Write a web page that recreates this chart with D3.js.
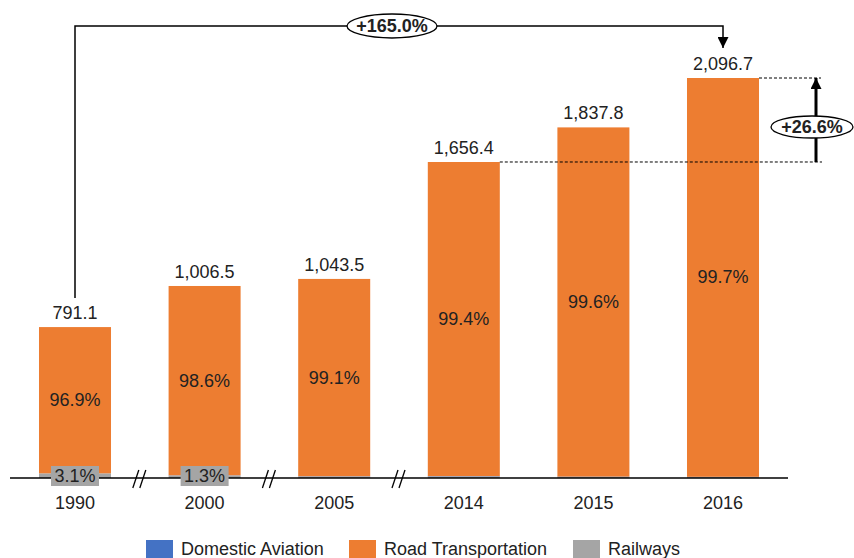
<!DOCTYPE html>
<html>
<head>
<meta charset="utf-8">
<script src="https://cdn.jsdelivr.net/npm/d3@7"></script>
<style>
  body { margin: 0; background: #fff; }
  svg text { font-family: "Liberation Sans", Arial, sans-serif; fill: #222; }
</style>
</head>
<body>
<svg id="chart" width="854" height="558"></svg>
<script>
// ---- data ----
var years = ['1990', '2000', '2005', '2014', '2015', '2016'];
var totals = [791.1, 1006.5, 1043.5, 1656.4, 1837.8, 2096.7];
var roadPct = [96.9, 98.6, 99.1, 99.4, 99.6, 99.7];
var railPct = [3.1, 1.3, 0.8, 0.5, 0.3, 0.2];
var aviationPct = [0.0, 0.1, 0.1, 0.1, 0.1, 0.1];
var seriesNames = ['Domestic Aviation', 'Road Transportation', 'Railways'];
var seriesColors = ['#4472c4', '#ed7d31', '#a5a5a5'];
var growthTotal = '+165.0%';
var growthRecent = '+26.6%';

var svg = d3.select('#chart');
var baseY = 478;

var x = d3.scaleBand()
  .domain(years)
  .range([10.2, 787.8])
  .paddingInner(0.4444)
  .paddingOuter(0.2222);

var y = d3.scaleLinear()
  .domain([0, d3.max(totals)])
  .range([baseY, 78]);

// rows for stack: rail at bottom, then aviation, then road
var rows = years.map(function(yr, i) {
  return {
    year: yr,
    total: totals[i],
    rail: totals[i] * railPct[i] / 100,
    aviation: totals[i] * aviationPct[i] / 100,
    road: totals[i] * roadPct[i] / 100,
    roadPct: roadPct[i],
    railPct: railPct[i]
  };
});

var stack = d3.stack().keys(['rail', 'aviation', 'road']);
var layers = stack(rows);
var keyColor = { rail: seriesColors[2], aviation: seriesColors[0], road: seriesColors[1] };

var bars = svg.append('g').attr('class', 'bars');
bars.selectAll('g')
  .data(layers)
  .enter().append('g')
  .attr('fill', function(d) { return keyColor[d.key]; })
  .selectAll('rect')
  .data(function(d) { return d; })
  .enter().append('rect')
  .attr('x', function(d) { return x(d.data.year); })
  .attr('width', x.bandwidth())
  .attr('y', function(d) { return y(d[1]); })
  .attr('height', function(d) { return y(d[0]) - y(d[1]); });

// ---- axis ----
var axis = svg.append('g').attr('transform', 'translate(0,' + baseY + ')');
axis.call(d3.axisBottom(x).tickSize(0).tickPadding(18))
axis.select('.domain').attr('stroke', '#000').attr('stroke-width', 1.5)
  .attr('d', 'M10,0H788');
axis.selectAll('.tick text')
  .style('font-size', '18px')
  .style('font-family', '"Liberation Sans", Arial, sans-serif')
  .attr('fill', '#222');

// axis break marks between first bars
var breaks = [0, 1, 2].map(function(i) {
  return (x(years[i]) + x.bandwidth() + x(years[i + 1])) / 2;
});
var brk = svg.append('g');
breaks.forEach(function(bx) {
  [-4, 3].forEach(function(dx) {
    brk.append('line')
      .attr('x1', bx + dx - 3).attr('y1', baseY + 10)
      .attr('x2', bx + dx + 3).attr('y2', baseY - 8)
      .attr('stroke', '#000').attr('stroke-width', 1.3);
  });
});

// ---- labels ----
var labels = svg.append('g');
labels.selectAll('text.total')
  .data(rows)
  .enter().append('text')
  .attr('class', 'total')
  .attr('x', function(d) { return x(d.year) + x.bandwidth() / 2; })
  .attr('y', function(d) { return y(d.total) - 8; })
  .attr('text-anchor', 'middle')
  .style('font-size', '18px')
  .text(function(d) { return d3.format(',.1f')(d.total); });

labels.selectAll('text.road')
  .data(rows)
  .enter().append('text')
  .attr('class', 'road')
  .attr('x', function(d) { return x(d.year) + x.bandwidth() / 2; })
  .attr('y', function(d) { return (y(d.total) + y(d.rail + d.aviation)) / 2; })
  .attr('text-anchor', 'middle')
  .attr('dominant-baseline', 'central')
  .style('font-size', '18px')
  .text(function(d) { return d.roadPct.toFixed(1) + '%'; });

var railRows = rows.filter(function(d) { return d.railPct >= 1; });
var railLab = labels.selectAll('g.rail')
  .data(railRows)
  .enter().append('g')
  .attr('transform', function(d) {
    return 'translate(' + (x(d.year) + x.bandwidth() / 2) + ',' + (baseY - 2) + ')';
  });
railLab.append('rect')
  .attr('x', -24).attr('y', -10).attr('width', 48).attr('height', 20)
  .attr('fill', seriesColors[2]);
railLab.append('text')
  .attr('text-anchor', 'middle')
  .attr('dominant-baseline', 'central')
  .style('font-size', '18px')
  .text(function(d) { return d.railPct.toFixed(1) + '%'; });

// ---- annotations ----
svg.append('defs').append('marker')
  .attr('id', 'arrow')
  .attr('viewBox', '0 0 10 10')
  .attr('refX', 10).attr('refY', 5)
  .attr('markerWidth', 11).attr('markerHeight', 11)
  .attr('markerUnits', 'userSpaceOnUse')
  .attr('orient', 'auto')
  .append('path').attr('d', 'M0,0L10,5L0,10Z').attr('fill', '#000');

var first = rows[0], last = rows[rows.length - 1], prev = rows[3];
var cx0 = x(first.year) + x.bandwidth() / 2;
var cx1 = x(last.year) + x.bandwidth() / 2;
var topY = 26;

svg.append('path')
  .attr('d', 'M' + cx0 + ',' + (y(first.total) - 29) + 'V' + topY + 'H' + cx1 + 'V' + (y(last.total) - 30))
  .attr('fill', 'none').attr('stroke', '#000').attr('stroke-width', 1.5)
  .attr('marker-end', 'url(#arrow)');

svg.append('ellipse')
  .attr('cx', 392).attr('cy', topY).attr('rx', 45).attr('ry', 12)
  .attr('fill', '#fff').attr('stroke', '#000').attr('stroke-width', 1.3);
svg.append('text')
  .attr('x', 392).attr('y', topY)
  .attr('text-anchor', 'middle').attr('dominant-baseline', 'central')
  .style('font-size', '18px').style('font-weight', 'bold')
  .attr('fill', '#000')
  .text(growthTotal);

// dashed reference lines
svg.append('line')
  .attr('x1', x(last.year) + x.bandwidth()).attr('x2', 821)
  .attr('y1', y(last.total)).attr('y2', y(last.total))
  .attr('stroke', '#000').attr('stroke-dasharray', '3,2');
svg.append('line')
  .attr('x1', x(prev.year) + x.bandwidth()).attr('x2', 822)
  .attr('y1', y(prev.total)).attr('y2', y(prev.total))
  .attr('stroke', '#000').attr('stroke-dasharray', '3,2');

svg.append('line')
  .attr('x1', 816).attr('x2', 816)
  .attr('y1', y(prev.total)).attr('y2', y(last.total))
  .attr('stroke', '#000').attr('stroke-width', 3)
  .attr('marker-end', 'url(#arrow)');

svg.append('ellipse')
  .attr('cx', 812).attr('cy', 127).attr('rx', 41).attr('ry', 11)
  .attr('fill', '#fff').attr('stroke', '#000').attr('stroke-width', 1.3);
svg.append('text')
  .attr('x', 812).attr('y', 127)
  .attr('text-anchor', 'middle').attr('dominant-baseline', 'central')
  .style('font-size', '18px').style('font-weight', 'bold')
  .attr('fill', '#000')
  .text(growthRecent);

// ---- legend ----
var legendX = [146, 349, 573];
var legend = svg.append('g');
var li = legend.selectAll('g')
  .data(seriesNames)
  .enter().append('g')
  .attr('transform', function(d, i) { return 'translate(' + legendX[i] + ',540)'; });
li.append('rect')
  .attr('width', 27).attr('height', 20)
  .attr('fill', function(d, i) { return seriesColors[i]; });
li.append('text')
  .attr('x', 35).attr('y', 15)
  .style('font-size', '18px')
  .text(function(d) { return d; });
</script>
</body>
</html>
